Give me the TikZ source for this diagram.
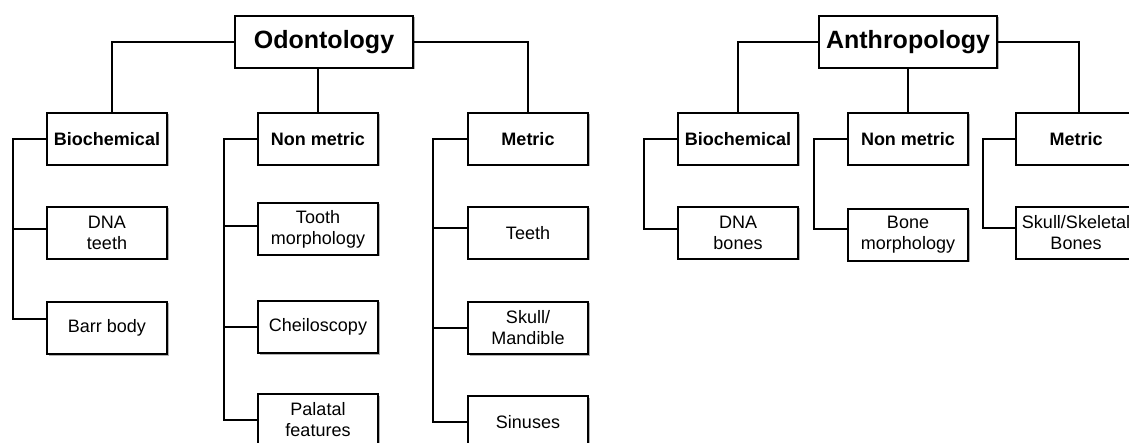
\documentclass[tikz,border=0pt]{standalone}
\usepackage{fontspec}
\setmainfont{Liberation Sans}
\usetikzlibrary{shadows}
\tikzset{
  box/.style={draw, line width=2pt, fill=white, inner sep=0pt, align=center,
    minimum width=120pt, minimum height=52pt,
    drop shadow={shadow xshift=1.5pt, shadow yshift=-1.5pt, fill=black, opacity=0.3},
    font=\fontsize{18}{21}\selectfont},
  headbox/.style={box, font=\bfseries\fontsize{18}{21}\selectfont},
  rootbox/.style={box, minimum width=178pt, minimum height=52pt, font=\bfseries\fontsize{25}{29}\selectfont},
  link/.style={line width=2pt, line cap=rect},
  stub/.style={line width=2pt},
}
\begin{document}
\begin{tikzpicture}[x=1pt,y=-1pt]
\path[use as bounding box, clip] (0,0) rectangle (1129,443);
\fill[white] (0,0) rectangle (1129,443);

% ---------- Odontology ----------
\node[rootbox] (odo) at (324,42) {Odontology};
\node[headbox] (bio) at (107,139) {Biochemical};
\node[headbox] (nm) at (318,139) {Non metric};
\node[headbox] (met) at (528,139) {Metric};

\node[box] (dna) at (107,233) {DNA\\teeth};
\node[box] (barr) at (107,328) {Barr body};

\node[box] (tooth) at (318,229) {Tooth\\morphology};
\node[box] (cheil) at (318,327) {Cheiloscopy};
\node[box] (pal) at (318,420) {Palatal\\features};

\node[box] (teeth) at (528,233) {Teeth};
\node[box] (skull) at (528,328) {Skull/\\Mandible};
\node[box] (sin) at (528,422) {Sinuses};

\draw[link] (odo.west) -| ([xshift=5pt]bio.north);
\draw[link] (odo.east) -| (met.north);
\draw[link] (nm.north) -- (nm.north |- odo.south);

\draw[link] (bio.west) -- ++(-33,0) coordinate (bx) |- ([yshift=9pt]barr.west);
\draw[stub] ([yshift=4pt]dna.west) -- ([yshift=4pt]dna.west -| bx);

\draw[link] (nm.west) -- ++(-33,0) coordinate (nx) |- (pal.west);
\draw[stub] ([yshift=3pt]tooth.west) -- ([yshift=3pt]tooth.west -| nx);
\draw[stub] (cheil.west) -- (cheil.west -| nx);

\draw[link] (met.west) -- ++(-34,0) coordinate (mx) |- (sin.west);
\draw[stub] ([yshift=5pt]teeth.west) -- ([yshift=5pt]teeth.west -| mx);
\draw[stub] (skull.west) -- (skull.west -| mx);

% ---------- Anthropology ----------
\node[rootbox] (ant) at (908,42) {Anthropology};
\node[headbox] (abio) at (738,139) {Biochemical};
\node[headbox] (anm) at (908,139) {Non metric};
\node[headbox] (amet) at (1076,139) {Metric};

\node[box] (adna) at (738,233) {DNA\\bones};
\node[box] (abone) at (908,235) {Bone\\morphology};
\node[box] (askel) at (1076,233) {Skull/Skeletal\\Bones};

\draw[link] (ant.west) -| (abio.north);
\draw[link] (ant.east) -| ([xshift=3pt]amet.north);
\draw[link] (anm.north) -- (anm.north |- ant.south);

\draw[link] (abio.west) -- ++(-33,0) |- ([yshift=4pt]adna.west);
\draw[link] (anm.west) -- ++(-33,0) |- ([yshift=6pt]abone.west);
\draw[link] (amet.west) -- ++(-32,0) |- ([yshift=5pt]askel.west);
\end{tikzpicture}
\end{document}
